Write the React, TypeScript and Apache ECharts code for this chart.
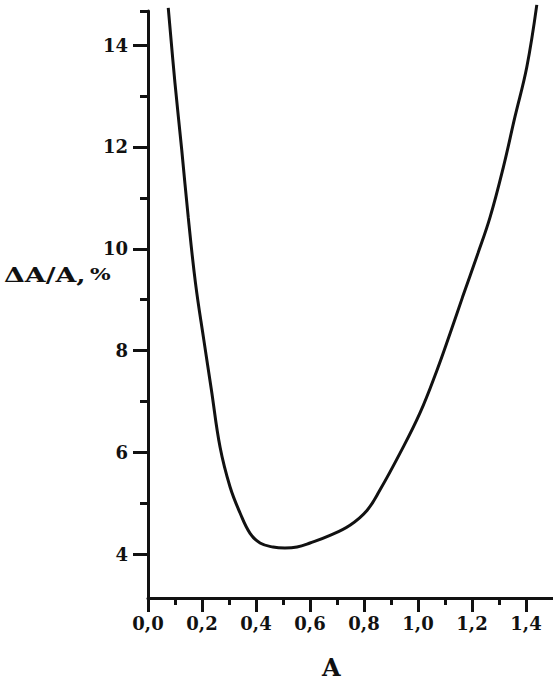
import React, { useEffect, useRef } from "react";
import * as echarts from "echarts";

// Curve: A and ΔA/A (%)
const aValues = [
  0.075, 0.1, 0.125, 0.149, 0.176, 0.207, 0.235, 0.267, 0.304, 0.341, 0.378,
  0.415, 0.463, 0.507, 0.552, 0.6, 0.674, 0.748, 0.811, 0.859, 0.933, 1.007,
  1.07, 1.119, 1.165, 1.222, 1.267, 1.316, 1.359, 1.403, 1.44,
];
const errValues = [
  14.73, 13.25, 11.94, 10.62, 9.32, 8.2, 7.22, 6.1, 5.32, 4.81, 4.41,
  4.22, 4.14, 4.12, 4.14, 4.22, 4.37, 4.57, 4.86, 5.26, 5.98, 6.77,
  7.61, 8.34, 9.05, 9.91, 10.62, 11.6, 12.59, 13.57, 14.79,
];

const xMajorTicks = [0, 0.2, 0.4, 0.6, 0.8, 1.0, 1.2, 1.4];
const xMinorTicks = [0.1, 0.3, 0.5, 0.7, 0.9, 1.1, 1.3];
const yMajorTicks = [4, 6, 8, 10, 12, 14];
const yMinorTicks = [5, 7, 9, 11, 13, 14.67];

const X_MIN = 0;
const X_MAX = 1.5;
const Y_MIN = 3.14;
const Y_MAX = 14.67;

const FONT = "DejaVu Serif";
const INK = "#111";

export default function App() {
  const ref = useRef<HTMLDivElement>(null);

  useEffect(() => {
    if (!ref.current) return;
    const chart = echarts.init(ref.current, undefined, { renderer: "svg" });
    const data = aValues.map((a, i) => [a, errValues[i]]);
    const labelStyle = {
      fontFamily: FONT,
      fontWeight: "bold" as const,
      fontSize: 18,
      color: INK,
    };
    chart.setOption({
      animation: false,
      backgroundColor: "#fff",
      grid: { left: 148, top: 11, width: 405, height: 587 },
      xAxis: [
        {
          type: "value",
          position: "bottom",
          min: X_MIN,
          max: X_MAX,
          splitLine: { show: false },
          axisLine: { lineStyle: { color: INK, width: 3 } },
          axisTick: {
            customValues: xMajorTicks,
            length: 14,
            lineStyle: { color: INK, width: 3 },
          },
          axisLabel: {
            ...labelStyle,
            customValues: xMajorTicks,
            margin: 16,
            formatter: (v: number) => v.toFixed(1).replace(".", ","),
          },
        },
        {
          type: "value",
          position: "bottom",
          min: X_MIN,
          max: X_MAX,
          splitLine: { show: false },
          axisLine: { show: false },
          axisTick: {
            customValues: xMinorTicks,
            length: 7,
            lineStyle: { color: INK, width: 3 },
          },
          axisLabel: { show: false },
        },
      ],
      yAxis: [
        {
          type: "value",
          position: "left",
          min: Y_MIN,
          max: Y_MAX,
          splitLine: { show: false },
          axisLine: { show: true, lineStyle: { color: INK, width: 3 } },
          axisTick: {
            show: true,
            customValues: yMajorTicks,
            length: 15,
            lineStyle: { color: INK, width: 3 },
          },
          axisLabel: {
            ...labelStyle,
            customValues: yMajorTicks,
            margin: 20,
            formatter: (v: number) => String(v),
          },
        },
        {
          type: "value",
          position: "left",
          min: Y_MIN,
          max: Y_MAX,
          splitLine: { show: false },
          axisLine: { show: false },
          axisTick: {
            show: true,
            customValues: yMinorTicks,
            length: 8,
            lineStyle: { color: INK, width: 3 },
          },
          axisLabel: { show: false },
        },
      ],
      graphic: [
        {
          type: "text",
          x: 4,
          y: 264,
          scaleX: 1.28,
          style: {
            text: "{a|ΔA/A,} {b|%}",
            rich: {
              a: { fontFamily: FONT, fontWeight: "bold", fontSize: 21, fill: INK },
              b: { fontFamily: FONT, fontWeight: "bold", fontSize: 17, fill: INK },
            },
          },
        },
        {
          type: "text",
          left: 322,
          top: 655,
          style: {
            text: "A",
            fontFamily: FONT,
            fontWeight: "bold",
            fontSize: 24,
            fill: INK,
          },
        },
      ],
      series: [
        {
          type: "line",
          xAxisIndex: 0,
          yAxisIndex: 0,
          data,
          smooth: 0.4,
          symbol: "none",
          clip: false,
          lineStyle: { color: INK, width: 3 },
        },
      ],
    });
    return () => chart.dispose();
  }, []);

  return (
    <div
      ref={ref}
      style={{ position: "fixed", left: 0, top: 0, width: 553, height: 681 }}
    />
  );
}
